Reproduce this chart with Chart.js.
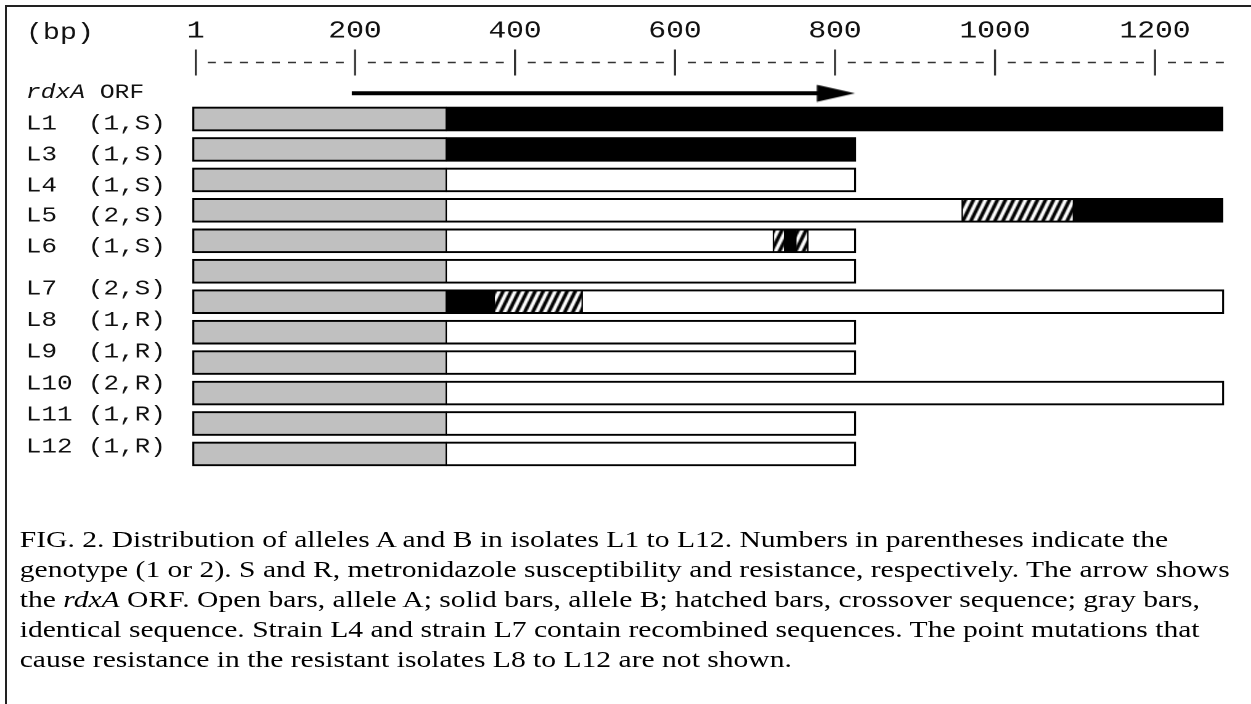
<!DOCTYPE html>
<html>
<head>
<meta charset="utf-8">
<script src="https://cdn.jsdelivr.net/npm/chart.js@4.4.1/dist/chart.umd.min.js"></script>
<style>
  html, body { margin: 0; padding: 0; background: #fff; }
  body { width: 1251px; height: 704px; position: relative; overflow: hidden; }
  #frame { position: absolute; left: 5px; top: 5px; right: -10px; bottom: -10px;
           border-top: 2px solid #222; border-left: 2px solid #222; }
  /* the figure is stretched horizontally, so draw it narrow and widen it */
  #wrap { position: absolute; left: 0; top: 0; width: 1015px; height: 704px;
          transform: scaleX(1.23251); transform-origin: 0 0; }
  #chart { position: absolute; left: 0; top: 0; }
  #caption { position: absolute; left: 16px; top: 524px; color: #000; white-space: nowrap;
             font-family: 'Liberation Serif', 'Times New Roman', serif; font-size: 24px; line-height: 30px; }
</style>
</head>
<body>
<div id="frame"></div>
<div id="wrap">
<canvas id="chart" width="1015" height="480"></canvas>
<div id="caption">FIG. 2. Distribution of alleles A and B in isolates L1 to L12. Numbers in parentheses indicate the<br>genotype (1 or 2). S and R, metronidazole susceptibility and resistance, respectively. The arrow shows<br>the <i>rdxA</i> ORF. Open bars, allele A; solid bars, allele B; hatched bars, crossover sequence; gray bars,<br>identical sequence. Strain L4 and strain L7 contain recombined sequences. The point mutations that<br>cause resistance in the resistant isolates L8 to L12 are not shown.</div>
</div>
<script>
// ruler (bp)
const tickValues = [1, 200, 400, 600, 800, 1000, 1200];
const tickLabels = ['1', '200', '400', '600', '800', '1000', '1200'];
const rulerEnd = 1286;
// rdxA ORF arrow, bp
const orf = [196, 825];

// isolate labels
const isolates = ['L1', 'L3', 'L4', 'L5', 'L6', 'L7', 'L8', 'L9', 'L10', 'L11', 'L12'];
const genotypes = [1, 1, 1, 2, 1, 2, 1, 1, 2, 1, 1];
const phenotypes = ['S', 'S', 'S', 'S', 'S', 'S', 'R', 'R', 'R', 'R', 'R'];

// bar segments: [row, start bp, end bp]
const grayBars = [[0, -3, 314], [1, -3, 314], [2, -3, 314], [3, -3, 314], [4, -3, 314], [5, -3, 314],
                  [6, -3, 314], [7, -3, 314], [8, -3, 314], [9, -3, 314], [10, -3, 314], [11, -3, 314]];
const openBars = [[2, 314, 826], [3, 314, 959], [4, 314, 723], [4, 766, 826], [5, 314, 826], [6, 484, 1286],
                  [7, 314, 826], [8, 314, 826], [9, 314, 1286], [10, 314, 826], [11, 314, 826]];
const solidBars = [[0, 314, 1285], [1, 314, 826], [3, 1098, 1285], [4, 737, 751], [6, 314, 374]];
const hatchBars = [[3, 959, 1098], [4, 723, 737], [4, 751, 766], [6, 374, 484]];

// layout: reference pixels, canvas is later widened by S
const S = 1251 / 1015;
const W = 1015, H = 480;
const X0 = 195, PX_BP = 0.8, X_MIN = -10, X_MAX = 1300;
const PAD_LEFT = 21;
const chartLeft = (X0 + PX_BP * X_MIN) / S;
const chartRight = (X0 + PX_BP * X_MAX) / S;
const ROW0 = 119, ROW_H = 30.45;
const toRow = px => (px - ROW0) / ROW_H;
const labelPx = [33, 124, 155, 186, 216, 247, 289, 320.5, 352, 384, 415, 447];
const RDXA_PX = 92.5;
const RULER_Y = toRow(62.5);
const ARROW_Y = toRow(93.3);
const HEAD_BP = 30;
const MONO = "'Liberation Mono', 'Courier New', monospace";

const yLabels = ['(bp)'].concat(isolates.map((n, i) => n.padEnd(4) + '(' + genotypes[i] + ',' + phenotypes[i] + ')'));

const allBars = grayBars.concat(openBars, solidBars, hatchBars);
const seqStart = Math.min(...allBars.map(b => b[1]));
const rowEnds = {};
allBars.forEach(([r, s, e]) => { rowEnds[r] = Math.max(rowEnds[r] || 0, e); });

function hatchPattern() {
  const p = 8 / S;
  const c = document.createElement('canvas');
  c.width = Math.round(2 * p); c.height = 16;
  const g = c.getContext('2d');
  g.fillStyle = '#fff';
  g.fillRect(0, 0, c.width, c.height);
  g.strokeStyle = '#000';
  g.lineWidth = 3;
  for (let k = -2; k <= 3; k++) {
    g.beginPath();
    g.moveTo(k * p - p / 2, 24);
    g.lineTo(k * p + p * 1.5, -8);
    g.stroke();
  }
  return g.createPattern(c, 'repeat');
}

function arrowHead() {
  const len = 38 / S;
  const c = document.createElement('canvas');
  c.width = Math.ceil(len * 2); c.height = 18;
  const g = c.getContext('2d');
  g.fillStyle = '#000';
  g.beginPath();
  g.moveTo(c.width / 2 - len, 0.5);
  g.lineTo(c.width / 2, 9);
  g.lineTo(c.width / 2 - len, 17.5);
  g.closePath();
  g.fill();
  return c;
}

const segs = arr => arr.map(([r, s, e]) => ({ y: r, x: [s, e] }));

const barStyle = {
  type: 'bar',
  indexAxis: 'y',
  grouped: false,
  barThickness: 24,
  borderSkipped: false,
  borderColor: '#000',
  clip: false,
  borderWidth: (ctx) => {
    const raw = ctx.raw;
    if (!raw) return 2;
    return { top: 2, bottom: 2, left: raw.x[0] === seqStart ? 1.7 : 0.9, right: raw.x[1] === rowEnds[raw.y] ? 1.7 : 0.9 };
  }
};

const orfLabel = {
  id: 'orfLabel',
  afterDraw(chart) {
    const ctx = chart.ctx, y = chart.scales.y;
    const py = y.getPixelForValue(toRow(RDXA_PX));
    ctx.save();
    ctx.textBaseline = 'middle';
    ctx.fillStyle = '#111';
    ctx.font = 'italic 20px ' + MONO;
    ctx.fillText('rdxA', y.left, py);
    const w = ctx.measureText('rdxA ').width;
    ctx.font = '20px ' + MONO;
    ctx.fillText('ORF', y.left + w, py);
    ctx.restore();
  }
};

const d = 8 / S;
const dash = [];
for (let i = 0; i < 8; i++) dash.push(d, d);
dash.push(d, 3 * d);

new Chart(document.getElementById('chart'), {
  type: 'bar',
  data: {
    datasets: [
      Object.assign({ data: segs(grayBars), backgroundColor: '#c0c0c0' }, barStyle),
      Object.assign({ data: segs(openBars), backgroundColor: '#ffffff' }, barStyle),
      Object.assign({ data: segs(solidBars), backgroundColor: '#000000' }, barStyle),
      Object.assign({ data: segs(hatchBars), backgroundColor: hatchPattern() }, barStyle),
      {
        type: 'line', clip: false,
        data: [{ x: tickValues[0], y: RULER_Y }, { x: rulerEnd, y: RULER_Y }],
        borderColor: '#333', borderWidth: 1.5, borderDash: dash, borderDashOffset: 148 / S,
        pointRadius: 0, pointHoverRadius: 0, fill: false
      },
      {
        type: 'scatter', clip: false,
        data: tickValues.map(v => ({ x: v, y: RULER_Y })),
        pointStyle: 'line', pointRotation: 90, pointRadius: 13, pointBorderWidth: 1.7, pointBorderColor: '#333'
      },
      {
        type: 'line', clip: false,
        data: [{ x: orf[0], y: ARROW_Y }, { x: orf[1] - HEAD_BP, y: ARROW_Y }],
        borderColor: '#000', borderWidth: 4, pointRadius: 0, pointHoverRadius: 0, fill: false
      },
      {
        type: 'scatter', clip: false,
        data: [{ x: orf[1], y: ARROW_Y }],
        pointStyle: arrowHead(), pointRadius: 5
      }
    ]
  },
  options: {
    responsive: false,
    animation: false,
    devicePixelRatio: 2,
    layout: { autoPadding: false, padding: { left: PAD_LEFT, right: W - chartRight, top: 0, bottom: 0 } },
    plugins: { legend: { display: false }, tooltip: { enabled: false } },
    scales: {
      x: {
        type: 'linear', min: X_MIN, max: X_MAX, offset: false, grace: 0,
        position: { y: toRow(0) },
        afterBuildTicks: s => { s.ticks = tickValues.map(v => ({ value: v })); },
        afterFit: s => { s.paddingLeft = 0; s.paddingRight = 0; s.paddingTop = 0; s.paddingBottom = 0; },
        ticks: {
          callback: (v, i) => tickLabels[i],
          font: { family: MONO, size: 24, lineHeight: 1 },
          color: '#111', padding: 19, autoSkip: false, maxRotation: 0
        },
        grid: { display: false, drawTicks: false },
        border: { display: false }
      },
      y: {
        type: 'linear', reverse: true, offset: false, grace: 0,
        min: toRow(0), max: toRow(H),
        afterBuildTicks: s => { s.ticks = labelPx.map(p => ({ value: toRow(p) })); },
        afterFit: s => { s.width = chartLeft - PAD_LEFT; s.paddingTop = 0; s.paddingBottom = 0; s.paddingLeft = 0; s.paddingRight = 0; },
        ticks: {
          callback: (v, i) => yLabels[i],
          crossAlign: 'far', padding: 0, autoSkip: false, color: '#111',
          font: (c) => c.index === 0 ? { family: MONO, size: 23 } : { family: MONO, size: 21 }
        },
        grid: { display: false, drawTicks: false },
        border: { display: false }
      }
    }
  },
  plugins: [orfLabel]
});
</script>
</body>
</html>
